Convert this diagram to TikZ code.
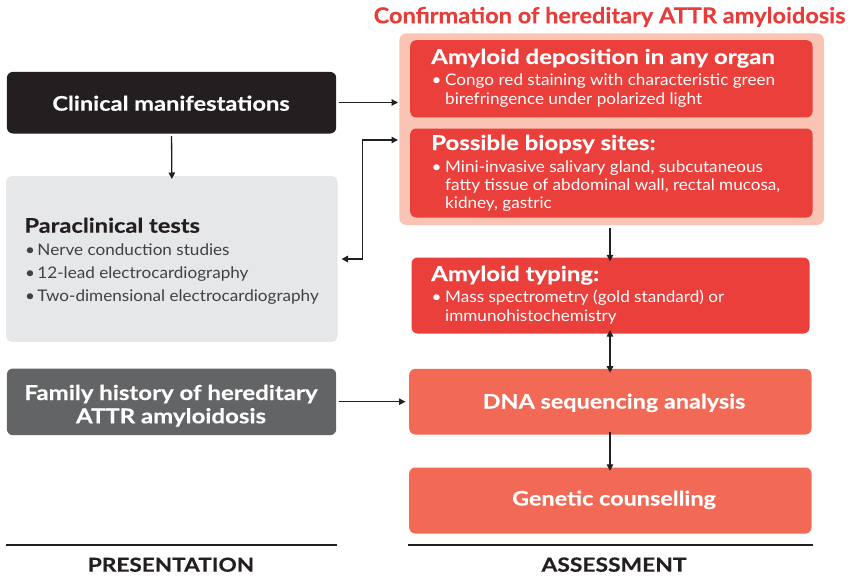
\documentclass[tikz,border=0pt]{standalone}
\usepackage{fontspec}
\setmainfont{Lato}
\newfontfamily\hfont{Lato}[FakeStretch=1.17, BoldFeatures={FakeBold=0.4}]
\newfontfamily\tfont{Lato}[FakeStretch=1.07, BoldFeatures={FakeBold=0.3}]
\newfontfamily\bfont{Lato}[FakeStretch=1.07]
\usetikzlibrary{arrows.meta}
\definecolor{tred}{HTML}{E73C3A}
\definecolor{pinkbg}{HTML}{F9C4B4}
\definecolor{boxred}{HTML}{EA3F3A}
\definecolor{salmon}{HTML}{F26A55}
\definecolor{nearblack}{HTML}{231F20}
\definecolor{lightgray}{HTML}{E6E7E8}
\definecolor{darkgray}{HTML}{636466}
\definecolor{bodygray}{HTML}{414042}
\tikzset{
  boxshape/.style={draw=none, rounded corners=6pt, anchor=north west, inner sep=0pt},
  head/.style={font=\hfont\fontsize{20.5}{22}\selectfont\bfseries, inner sep=0pt},
  body/.style={font=\bfont\fontsize{16}{18}\selectfont, inner sep=0pt},
  conn/.style={draw=nearblack, line width=1.3pt, -{Triangle[length=6.5pt,width=6.5pt]}},
  dconn/.style={draw=nearblack, line width=1.3pt, {Triangle[length=6.5pt,width=6.5pt]}-{Triangle[length=6.5pt,width=6.5pt]}},
}
\begin{document}
\begin{tikzpicture}[x=1pt,y=-1pt]
\useasboundingbox (0,0) rectangle (855,578);
% title
\node[font=\tfont\fontsize{22}{24}\selectfont\bfseries, text=tred, anchor=base, inner sep=0pt] (title) at (609.5,23.3) {Confirmation of hereditary ATTR amyloidosis};
% pink container
\fill[pinkbg, rounded corners=7pt] (399.3,33.3) rectangle (824,225);
\coordinate (pinkS) at (610,225);
% boxes
\node[boxshape, fill=boxred, minimum width=402.3pt, minimum height=77.3pt] (boxA) at (410,40) {};
\node[boxshape, fill=boxred, minimum width=402.3pt, minimum height=89pt] (boxB) at (410,128.3) {};
\node[boxshape, fill=boxred, minimum width=398pt, minimum height=76pt] (boxC) at (411.3,257.3) {};
\node[boxshape, fill=salmon, minimum width=402.3pt, minimum height=65.6pt] (boxD) at (409,368.7) {};
\node[boxshape, fill=salmon, minimum width=402.3pt, minimum height=66pt] (boxE) at (409,467.3) {};
\node[boxshape, fill=nearblack, minimum width=329.3pt, minimum height=61.6pt] (clin) at (6.7,71.7) {};
\node[boxshape, fill=lightgray, minimum width=331.3pt, minimum height=165.7pt] (para) at (6,176) {};
\node[boxshape, fill=darkgray, minimum width=329.3pt, minimum height=66.7pt] (fam) at (6.7,368.3) {};
% texts box A
\node[head, text=white, anchor=base west] (aH) at (431,64) {Amyloid deposition in any organ};
\node[body, text=white, anchor=base west] (aB) at (431.5,86) {\textbullet};
\node[body, text=white, anchor=base west] (a1) at (445,86) {Congo red staining with characteristic green};
\node[body, text=white, anchor=base west] (a2) at (445,104.5) {birefringence under polarized light};
% box B
\node[head, text=white, anchor=base west] (bH) at (431,150) {Possible biopsy sites:};
\node[body, text=white, anchor=base west] (bB) at (431.5,172.3) {\textbullet};
\node[body, text=white, anchor=base west] (b1) at (445,172.3) {Mini-invasive salivary gland, subcutaneous};
\node[body, text=white, anchor=base west] (b2) at (445,190.5) {fatty tissue of abdominal wall, rectal mucosa,};
\node[body, text=white, anchor=base west] (b3) at (445,208.7) {kidney, gastric};
% box C
\node[head, text=white, anchor=base west] (cH) at (431,281) {Amyloid typing:};
\node[body, text=white, anchor=base west] (cB) at (431.5,302.3) {\textbullet};
\node[body, text=white, anchor=base west] (c1) at (445,302.3) {Mass spectrometry (gold standard) or};
\node[body, text=white, anchor=base west] (c2) at (445,321) {immunohistochemistry};
% box D, E
\node[head, font=\hfont\fontsize{20}{22}\selectfont\bfseries, text=white, anchor=base] (dT) at (614,408.5) {DNA sequencing analysis};
\node[head, font=\hfont\fontsize{20}{22}\selectfont\bfseries, text=white, anchor=base] (eT) at (614,505.5) {Genetic counselling};
% left texts
\node[head, font=\hfont\fontsize{20.2}{22}\selectfont\bfseries, text=white, anchor=base] (clinT) at (171,110.7) {Clinical manifestations};
\node[head, font=\hfont\fontsize{20.2}{22}\selectfont\bfseries, text=nearblack, anchor=base west] (pH) at (24.3,232.7) {Paraclinical tests};
\node[body, text=bodygray, anchor=base west] (pB1) at (25,255) {\textbullet};
\node[body, text=bodygray, anchor=base west] (p1) at (37.3,255) {Nerve conduction studies};
\node[body, text=bodygray, anchor=base west] (pB2) at (25,278.3) {\textbullet};
\node[body, text=bodygray, anchor=base west] (p2) at (37.3,278.3) {12-lead electrocardiography};
\node[body, text=bodygray, anchor=base west] (pB3) at (25,301.7) {\textbullet};
\node[body, text=bodygray, anchor=base west] (p3) at (37.3,301.7) {Two-dimensional electrocardiography};
\node[head, text=white, anchor=base] (f1) at (171,400) {Family history of hereditary};
\node[head, text=white, anchor=base] (f2) at (171,423.3) {ATTR amyloidosis};
% section lines and labels
\draw[nearblack, line width=2pt] (6,545) -- (336.7,545);
\draw[nearblack, line width=2pt] (407.7,545) -- (812.7,545);
\node[head, font=\hfont\fontsize{19.3}{22}\selectfont\bfseries, text=nearblack, anchor=base] (pres) at (171,571.7) {PRESENTATION};
\node[head, font=\hfont\fontsize{19.5}{22}\selectfont\bfseries, text=nearblack, anchor=base] (asse) at (614,571.7) {ASSESSMENT};
% connectors
\coordinate (toA) at (398,102.5);
\coordinate (toB) at (398,140);
\coordinate (toP) at (341.5,259);
\draw[conn] (clin.east |- toA) ++(2.5,0) -- (toA);
\draw[conn] (clin.south) ++(0,2.5) -- ([yshift=-3pt]para.north);
\draw[dconn] (toP) -| (362.5,140) -- (toB);
\draw[conn] (pinkS) ++(0,2.5) -- ([yshift=-4pt]boxC.north -| pinkS);
\draw[dconn] ([yshift=3.5pt]boxC.south -| pinkS) -- ([yshift=-4pt]boxD.north -| pinkS);
\draw[conn] ([yshift=2.5pt]boxD.south -| pinkS) -- ([yshift=-3.5pt]boxE.north -| pinkS);
\draw[conn] ([xshift=2.5pt]fam.east |- 0,401.7) -- ([xshift=-3.5pt]boxD.west |- 0,401.7);
\end{tikzpicture}
\end{document}
